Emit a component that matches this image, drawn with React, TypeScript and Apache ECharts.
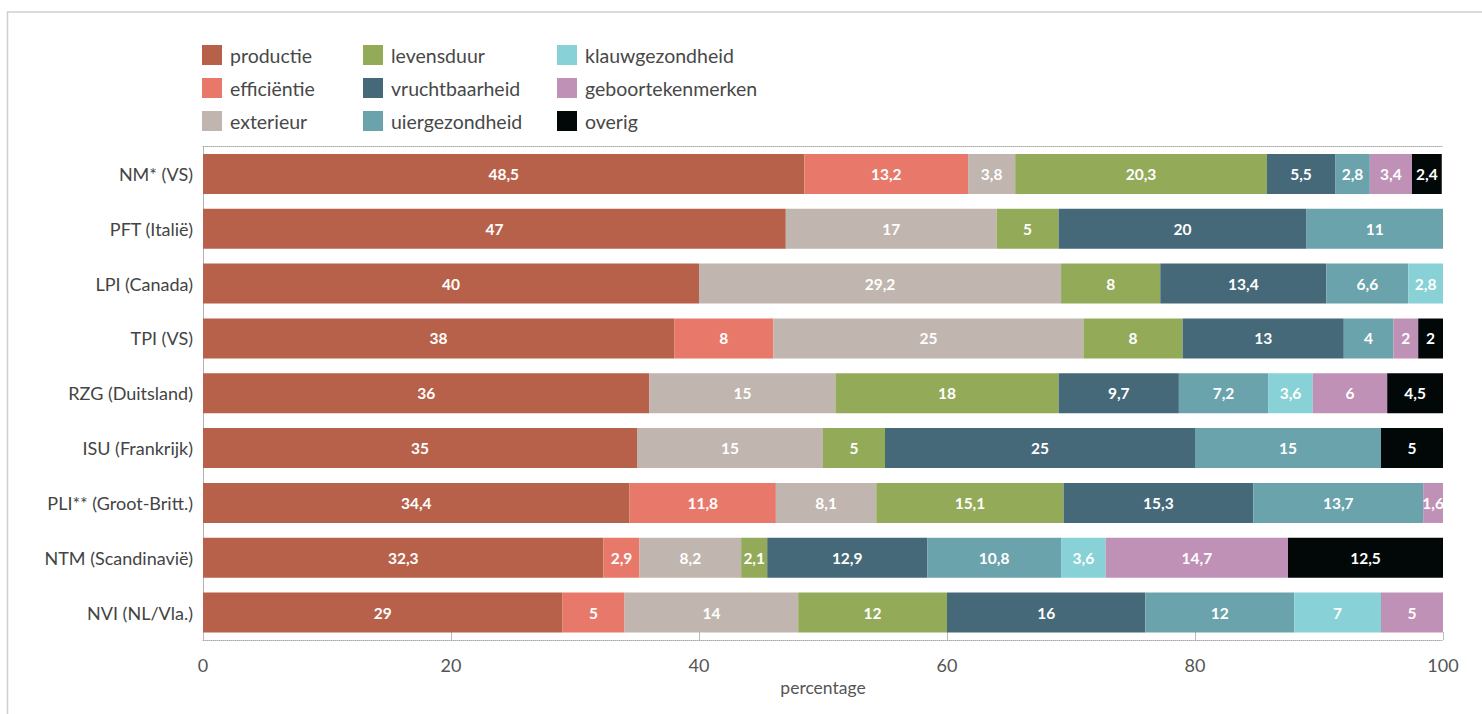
import React, { useEffect, useRef } from "react";
import * as echarts from "echarts";

const categories = [
  "NM* (VS)",
  "PFT (Italië)",
  "LPI (Canada)",
  "TPI (VS)",
  "RZG (Duitsland)",
  "ISU (Frankrijk)",
  "PLI** (Groot-Britt.)",
  "NTM (Scandinavië)",
  "NVI (NL/Vla.)",
];

const seriesNames = [
  "productie",
  "efficiëntie",
  "exterieur",
  "levensduur",
  "vruchtbaarheid",
  "uiergezondheid",
  "klauwgezondheid",
  "geboortekenmerken",
  "overig",
];

const colors = [
  "#B8614A",
  "#E8796A",
  "#C1B5AF",
  "#93AB58",
  "#466979",
  "#6BA3AD",
  "#88D1D6",
  "#C091B6",
  "#020808",
];

const productie = [48.5, 47, 40, 38, 36, 35, 34.4, 32.3, 29];
const efficientie = [13.2, null, null, 8, null, null, 11.8, 2.9, 5];
const exterieur = [3.8, 17, 29.2, 25, 15, 15, 8.1, 8.2, 14];
const levensduur = [20.3, 5, 8, 8, 18, 5, 15.1, 2.1, 12];
const vruchtbaarheid = [5.5, 20, 13.4, 13, 9.7, 25, 15.3, 12.9, 16];
const uiergezondheid = [2.8, 11, 6.6, 4, 7.2, 15, 13.7, 10.8, 12];
const klauwgezondheid = [null, null, 2.8, null, 3.6, null, null, 3.6, 7];
const geboortekenmerken = [3.4, null, null, 2, 6, null, 1.6, 14.7, 5];
const overig = [2.4, null, null, 2, 4.5, 5, null, 12.5, null];

const seriesData = [
  productie,
  efficientie,
  exterieur,
  levensduur,
  vruchtbaarheid,
  uiergezondheid,
  klauwgezondheid,
  geboortekenmerken,
  overig,
];

const xTicks = [0, 20, 40, 60, 80, 100];

const FONT = "Lato, 'Open Sans', sans-serif";

export default function App() {
  const ref = useRef<HTMLDivElement>(null);

  useEffect(() => {
    document.body.style.margin = "0";
    if (!ref.current) return;
    const chart = echarts.init(ref.current, null, { renderer: "svg" });

    const legendCols = [
      { names: seriesNames.slice(0, 3), left: 202 },
      { names: [seriesNames[3], seriesNames[4], seriesNames[5]], left: 363 },
      { names: [seriesNames[6], seriesNames[7], seriesNames[8]], left: 557 },
    ];

    chart.setOption({
      animation: false,
      textStyle: { fontFamily: FONT },
      color: colors,
      graphic: [
        {
          type: "rect",
          shape: { x: 7.5, y: 12, width: 1500, height: 720 },
          style: { fill: "none", stroke: "#cfcfcf", lineWidth: 1.5 },
          silent: true,
        },
      ],
      legend: legendCols.map((c) => ({
        orient: "vertical",
        left: c.left,
        top: 45,
        padding: 0,
        itemWidth: 20,
        itemHeight: 20,
        itemGap: 13,
        icon: "rect",
        selectedMode: false,
        data: c.names,
        textStyle: { fontSize: 19.5, color: "#484848", fontFamily: FONT, padding: [0, 0, 0, 3] },
      })),
      grid: { left: 203, right: 39, top: 146.5, bottom: 74, containLabel: false },
      xAxis: [
        {
          type: "value",
          min: 0,
          max: 100,
          interval: 20,
          position: "bottom",
          name: "percentage",
          nameLocation: "middle",
          nameGap: 36,
          nameTextStyle: { fontSize: 17.5, color: "#555", fontFamily: FONT },
          axisLine: { show: true, lineStyle: { color: "#aaa", type: "dotted", width: 1 } },
          axisTick: { show: true, inside: true, length: 8, lineStyle: { color: "#bbb" } },
          axisLabel: {
            fontSize: 18,
            color: "#555",
            margin: 16,
            fontFamily: FONT,
            formatter: (v: number) => (xTicks.includes(v) ? String(v) : ""),
          },
          splitLine: { show: false },
        },
        {
          type: "value",
          min: 0,
          max: 100,
          interval: 20,
          position: "top",
          axisLine: { show: true, lineStyle: { color: "#aaa", type: "dotted", width: 1 } },
          axisTick: { show: false },
          axisLabel: { show: false },
          splitLine: { show: false },
        },
      ],
      yAxis: {
        type: "category",
        data: categories,
        inverse: true,
        axisLine: { show: true, lineStyle: { color: "#aaa", type: "dotted", width: 1 } },
        axisTick: { show: false },
        axisLabel: { fontSize: 18, color: "#444", margin: 10, fontFamily: FONT },
      },
      series: seriesNames.map((name, i) => ({
        name,
        type: "bar",
        stack: "total",
        barCategoryGap: "27%",
        data: seriesData[i],
        itemStyle: { color: colors[i] },
        label: {
          show: true,
          position: "inside",
          color: "#fff",
          fontWeight: "bold",
          fontSize: 15.5,
          fontFamily: FONT,
          formatter: (p: any) =>
            p.value == null ? "" : String(p.value).replace(".", ","),
        },
      })),
    });

    return () => chart.dispose();
  }, []);

  return <div ref={ref} style={{ width: 1482, height: 714 }} />;
}
